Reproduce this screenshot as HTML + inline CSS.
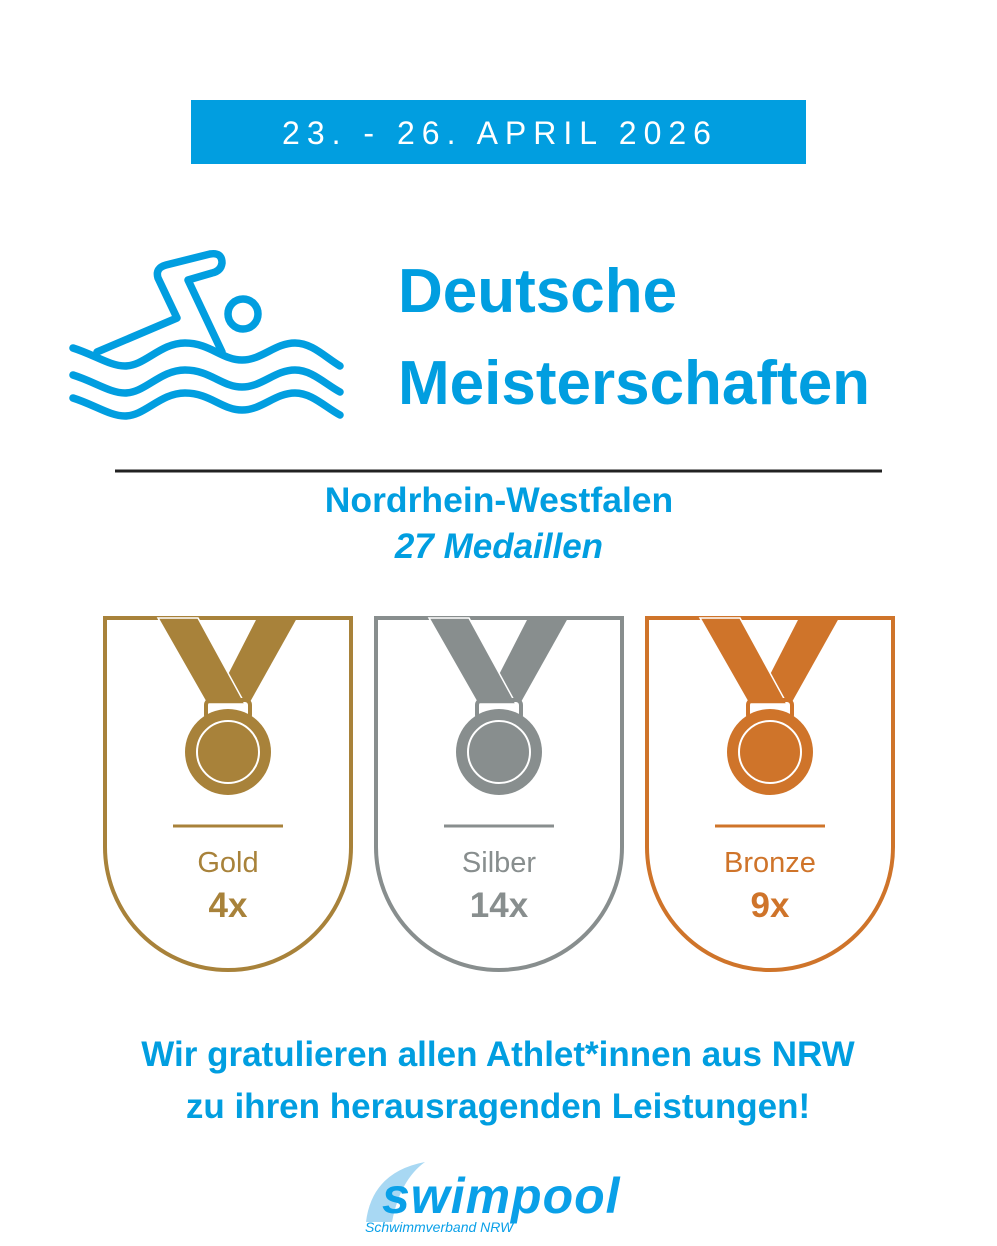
<!DOCTYPE html>
<html><head><meta charset="utf-8"><style>
html,body{margin:0;padding:0;background:#fff}
svg{display:block}
text{font-family:"Liberation Sans","DejaVu Sans",sans-serif}
</style></head><body>
<svg width="997" height="1246" viewBox="0 0 997 1246" xmlns="http://www.w3.org/2000/svg">
<defs>
<g id="rib">
<polygon points="257,618 297,618 250,702 214,702"/>
</g>
</defs>
<rect width="997" height="1246" fill="#fff"/>
<rect x="191" y="100" width="615" height="64" fill="#019ee0"/>
<text x="500" y="144" text-anchor="middle" font-size="32" fill="#fff" letter-spacing="7">23. - 26. APRIL 2026</text>

<g fill="none" stroke="#019ee0" stroke-width="7.5" stroke-linecap="round" stroke-linejoin="round">
<path d="M73,348 C95,355 110,366 125,366 C145,366 160,343 185,343 C210,343 222,360 242,360 C262,360 275,343 295,343 C312,343 325,357 340,366"/>
<path d="M73,375 C95,382 110,393 125,393 C145,393 160,370 185,370 C210,370 222,387 242,387 C262,387 275,370 295,370 C312,370 325,384 340,392"/>
<path d="M73,398 C95,405 110,416 125,416 C145,416 160,393 185,393 C210,393 222,410 242,410 C262,410 275,393 295,393 C312,393 325,407 340,415"/>
<path d="M97,352 L177,318 L158,278 Q155,268 166,265 L210,254 Q222,252 222,263 Q221,271 212,273 L188,280 L222,352"/>
<circle cx="243" cy="314" r="15"/>
</g>

<text x="398" y="312" font-size="62" font-weight="bold" fill="#019ee0">Deutsche</text>
<text x="398" y="404" font-size="62" font-weight="bold" fill="#019ee0">Meisterschaften</text>
<line x1="115" y1="471" x2="882" y2="471" stroke="#222" stroke-width="3"/>
<text x="499" y="512" text-anchor="middle" font-size="35.5" font-weight="bold" fill="#019ee0">Nordrhein-Westfalen</text>
<text x="499" y="558" text-anchor="middle" font-size="35" font-weight="bold" font-style="italic" fill="#019ee0">27 Medaillen</text>

<g>
<path d="M105,618 L351,618 L351,847 A123,123 0 0 1 105,847 Z" fill="none" stroke="#a8823a" stroke-width="4"/>
<polygon points="257,618 297,618 250,702 214,702" fill="#a8823a"/>
<polygon points="158,618 198,618 245,704 207,704" fill="#a8823a" stroke="#fff" stroke-width="1.5"/>
<rect x="206" y="700" width="44" height="20" rx="5" fill="none" stroke="#a8823a" stroke-width="4"/>
<circle cx="228" cy="752" r="43" fill="#a8823a"/>
<circle cx="228" cy="752" r="31" fill="none" stroke="#fff" stroke-width="2"/>
<line x1="173" y1="826" x2="283" y2="826" stroke="#a8823a" stroke-width="3"/>
<text x="228" y="872" text-anchor="middle" font-size="29" fill="#a8823a">Gold</text>
<text x="228" y="917" text-anchor="middle" font-size="35" font-weight="bold" fill="#a8823a">4x</text>
</g>
<g transform="translate(271,0)">
<path d="M105,618 L351,618 L351,847 A123,123 0 0 1 105,847 Z" fill="none" stroke="#888e8e" stroke-width="4"/>
<polygon points="257,618 297,618 250,702 214,702" fill="#888e8e"/>
<polygon points="158,618 198,618 245,704 207,704" fill="#888e8e" stroke="#fff" stroke-width="1.5"/>
<rect x="206" y="700" width="44" height="20" rx="5" fill="none" stroke="#888e8e" stroke-width="4"/>
<circle cx="228" cy="752" r="43" fill="#888e8e"/>
<circle cx="228" cy="752" r="31" fill="none" stroke="#fff" stroke-width="2"/>
<line x1="173" y1="826" x2="283" y2="826" stroke="#888e8e" stroke-width="3"/>
<text x="228" y="872" text-anchor="middle" font-size="29" fill="#888e8e">Silber</text>
<text x="228" y="917" text-anchor="middle" font-size="35" font-weight="bold" fill="#888e8e">14x</text>
</g>
<g transform="translate(542,0)">
<path d="M105,618 L351,618 L351,847 A123,123 0 0 1 105,847 Z" fill="none" stroke="#cf742a" stroke-width="4"/>
<polygon points="257,618 297,618 250,702 214,702" fill="#cf742a"/>
<polygon points="158,618 198,618 245,704 207,704" fill="#cf742a" stroke="#fff" stroke-width="1.5"/>
<rect x="206" y="700" width="44" height="20" rx="5" fill="none" stroke="#cf742a" stroke-width="4"/>
<circle cx="228" cy="752" r="43" fill="#cf742a"/>
<circle cx="228" cy="752" r="31" fill="none" stroke="#fff" stroke-width="2"/>
<line x1="173" y1="826" x2="283" y2="826" stroke="#cf742a" stroke-width="3"/>
<text x="228" y="872" text-anchor="middle" font-size="29" fill="#cf742a">Bronze</text>
<text x="228" y="917" text-anchor="middle" font-size="35" font-weight="bold" fill="#cf742a">9x</text>
</g>

<text x="498" y="1066" text-anchor="middle" font-size="35" font-weight="bold" fill="#019ee0">Wir gratulieren allen Athlet*innen aus NRW</text>
<text x="498" y="1118" text-anchor="middle" font-size="35" font-weight="bold" fill="#019ee0">zu ihren herausragenden Leistungen!</text>

<path d="M366,1222 Q372,1172 425,1162 Q400,1180 392,1222 Z" fill="#a8d8f3"/>
<text x="382" y="1213" font-size="50" font-weight="bold" font-style="italic" fill="#0aa0e8" letter-spacing="1">swimpool</text>
<text x="365" y="1232" font-size="14" font-style="italic" fill="#0aa0e8">Schwimmverband NRW</text>
</svg>
</body></html>
